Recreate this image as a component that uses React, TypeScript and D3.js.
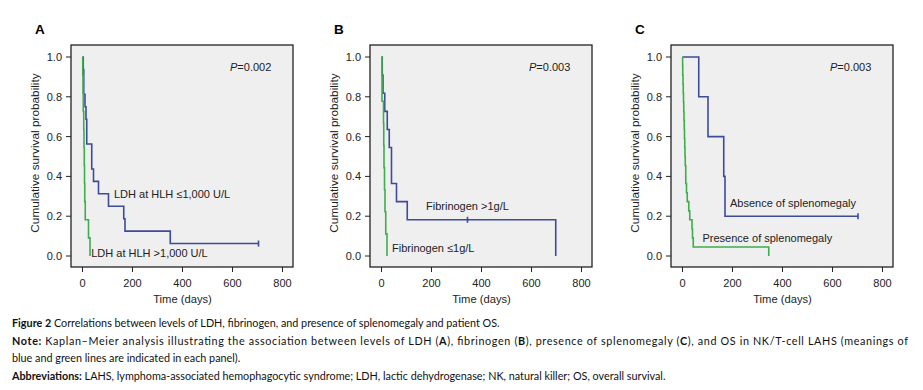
import React from "react";
import * as d3 from "d3";

// tick values
const xTicks = [0, 200, 400, 600, 800];
const yTicks = [0, 0.2, 0.4, 0.6, 0.8, 1.0];

// Panel A - LDH
const ldhLowTimes = [0, 3, 5, 10, 14, 17, 37, 44, 64, 104, 165, 170, 351, 704];
const ldhLowSurv = [1, 0.9375, 0.8125, 0.75, 0.6875, 0.5625, 0.4375, 0.375, 0.3125, 0.25, 0.1875, 0.125, 0.0625, 0.0625];
const ldhLowCensor = [704];
const ldhHighTimes = [0, 1, 2, 3, 5, 6, 7, 8, 9, 11, 24, 30];
const ldhHighSurv = [1, 0.909, 0.818, 0.727, 0.636, 0.545, 0.455, 0.364, 0.273, 0.182, 0.091, 0];

// Panel B - fibrinogen
const fibHighTimes = [0, 3, 6, 13, 23, 31, 40, 60, 103, 697];
const fibHighSurv = [1, 0.909, 0.818, 0.727, 0.636, 0.545, 0.364, 0.273, 0.182, 0];
const fibHighCensor = [344];
const fibLowTimes = [0, 2, 8, 9, 10, 12, 14, 17, 22];
const fibLowSurv = [1, 0.778, 0.667, 0.556, 0.444, 0.333, 0.222, 0.111, 0];

// Panel C - splenomegaly
const splAbsTimes = [0, 65, 102, 165, 170, 702];
const splAbsSurv = [1, 0.8, 0.6, 0.4, 0.2, 0.2];
const splAbsCensor = [702];
const splPresTimes = [0, 0.5, 1, 2, 3, 4, 5, 6, 7, 8, 9, 10, 11, 13, 16, 19, 25, 29, 38, 40, 43, 345];
const splPresSurv = [1, 0.955, 0.909, 0.864, 0.818, 0.773, 0.727, 0.682, 0.636, 0.591, 0.545, 0.5, 0.455, 0.364, 0.318, 0.273, 0.227, 0.182, 0.136, 0.091, 0.045, 0];

const BLUE = "#3d4b9c";
const GREEN = "#3cae4b";
const FONT = "Liberation Sans, Arial, sans-serif";
const CAP_FONT = "Lato, Liberation Sans, sans-serif";

type Series = { times: number[]; surv: number[]; censor?: number[]; color: string };
type PanelDef = {
  letter: string;
  ox: number;
  p: string;
  series: Series[];
  labels: { text: string; x: number; y: number }[];
};

const panels: PanelDef[] = [
  {
    letter: "A",
    ox: 0,
    p: "=0.002",
    series: [
      { times: ldhLowTimes, surv: ldhLowSurv, censor: ldhLowCensor, color: BLUE },
      { times: ldhHighTimes, surv: ldhHighSurv, color: GREEN },
    ],
    labels: [
      { text: "LDH at HLH \u22641,000 U/L", x: 126, y: 0.29 },
      { text: "LDH at HLH >1,000 U/L", x: 35, y: -0.005 },
    ],
  },
  {
    letter: "B",
    ox: 299,
    p: "=0.003",
    series: [
      { times: fibHighTimes, surv: fibHighSurv, censor: fibHighCensor, color: BLUE },
      { times: fibLowTimes, surv: fibLowSurv, color: GREEN },
    ],
    labels: [
      { text: "Fibrinogen >1g/L", x: 178, y: 0.23 },
      { text: "Fibrinogen \u22641g/L", x: 42, y: 0.02 },
    ],
  },
  {
    letter: "C",
    ox: 600,
    p: "=0.003",
    series: [
      { times: splAbsTimes, surv: splAbsSurv, censor: splAbsCensor, color: BLUE },
      { times: splPresTimes, surv: splPresSurv, color: GREEN },
    ],
    labels: [
      { text: "Absence of splenomegaly", x: 190, y: 0.245 },
      { text: "Presence of splenomegaly", x: 80, y: 0.07 },
    ],
  },
];

function Panel({ def }: { def: PanelDef }) {
  const x = d3.scaleLinear().domain([0, 800]).range([82.5 + def.ox, 282.5 + def.ox]);
  const y = d3.scaleLinear().domain([0, 1]).range([256, 57]);
  const fx0 = x(-46);
  const fx1 = x(842);
  const fy0 = 45;
  const fy1 = 267;
  const fmt = d3.format(".1f");

  const line = d3
    .line<[number, number]>()
    .x((d) => x(d[0]))
    .y((d) => y(d[1]))
    .curve(d3.curveStepAfter);

  return (
    <g>
      <text x={def.ox + 35} y={34} fontFamily={FONT} fontWeight="bold" fontSize={13.5}>
        {def.letter}
      </text>
      <rect x={fx0} y={fy0} width={fx1 - fx0} height={fy1 - fy0} fill="#efefef" stroke="#222" strokeWidth={1.3} />
      {yTicks.map((t) => (
        <g key={"y" + t}>
          <line x1={fx0 - 5} x2={fx0} y1={y(t)} y2={y(t)} stroke="#222" />
          <text x={fx0 - 9} y={y(t) + 4} textAnchor="end" fontFamily={FONT} fontSize={11} fill="#222">
            {fmt(t)}
          </text>
        </g>
      ))}
      {xTicks.map((t) => (
        <g key={"x" + t}>
          <line x1={x(t)} x2={x(t)} y1={fy1} y2={fy1 + 5} stroke="#222" />
          <text x={x(t)} y={287} textAnchor="middle" fontFamily={FONT} fontSize={11} fill="#222">
            {t}
          </text>
        </g>
      ))}
      <text
        transform={`translate(${def.ox + 39},${(fy0 + fy1) / 2 - 3}) rotate(-90)`}
        textAnchor="middle"
        fontFamily={FONT}
        fontSize={11.8}
        fill="#222"
      >
        Cumulative survival probability
      </text>
      <text x={(x(0) + x(800)) / 2} y={303} textAnchor="middle" fontFamily={FONT} fontSize={11.2} fill="#222">
        Time (days)
      </text>
      <text x={def.ox + 230} y={71} fontFamily={FONT} fontSize={11} fill="#222">
        <tspan fontStyle="italic">P</tspan>
        {def.p}
      </text>
      {def.series.map((s, i) => {
        const pts: [number, number][] = s.times.map((t, j) => [t, s.surv[j]]);
        return (
          <g key={i}>
            <path d={line(pts) || ""} fill="none" stroke={s.color} strokeWidth={1.6} />
            {(s.censor || []).map((c) => {
              const idx = d3.bisectRight(s.times, c) - 1;
              const v = s.surv[Math.max(0, idx - (s.times[idx] === c && idx > 0 && s.surv[idx] === 0 ? 1 : 0))];
              return (
                <line key={c} x1={x(c)} x2={x(c)} y1={y(v) - 3} y2={y(v) + 3} stroke={s.color} strokeWidth={1.6} />
              );
            })}
          </g>
        );
      })}
      {def.labels.map((l) => (
        <text key={l.text} x={x(l.x)} y={y(l.y)} fontFamily={FONT} fontSize={11} fill="#222">
          {l.text}
        </text>
      ))}
    </g>
  );
}

export default function App() {
  return (
    <svg width={923} height={390} style={{ position: "absolute", left: 0, top: 0, background: "#fff" }}>
      {panels.map((p) => (
        <Panel key={p.letter} def={p} />
      ))}
      <g fontFamily={CAP_FONT} fontSize={10.8} fill="#111">
        <text x={12} y={327}>
          <tspan fontWeight="bold">Figure 2</tspan> Correlations between levels of LDH, fibrinogen, and presence of splenomegaly and patient OS.
        </text>
        <text x={12} y={345} textLength={896} lengthAdjust="spacing">
          <tspan fontWeight="bold">Note:</tspan> Kaplan–Meier analysis illustrating the association between levels of LDH (
          <tspan fontWeight="bold">A</tspan>), fibrinogen (<tspan fontWeight="bold">B</tspan>), presence of splenomegaly (
          <tspan fontWeight="bold">C</tspan>), and OS in NK/T-cell LAHS (meanings of
        </text>
        <text x={12} y={362}>
          blue and green lines are indicated in each panel).
        </text>
        <text x={12} y={380}>
          <tspan fontWeight="bold">Abbreviations:</tspan> LAHS, lymphoma-associated hemophagocytic syndrome; LDH, lactic dehydrogenase; NK, natural killer; OS, overall survival.
        </text>
      </g>
    </svg>
  );
}
